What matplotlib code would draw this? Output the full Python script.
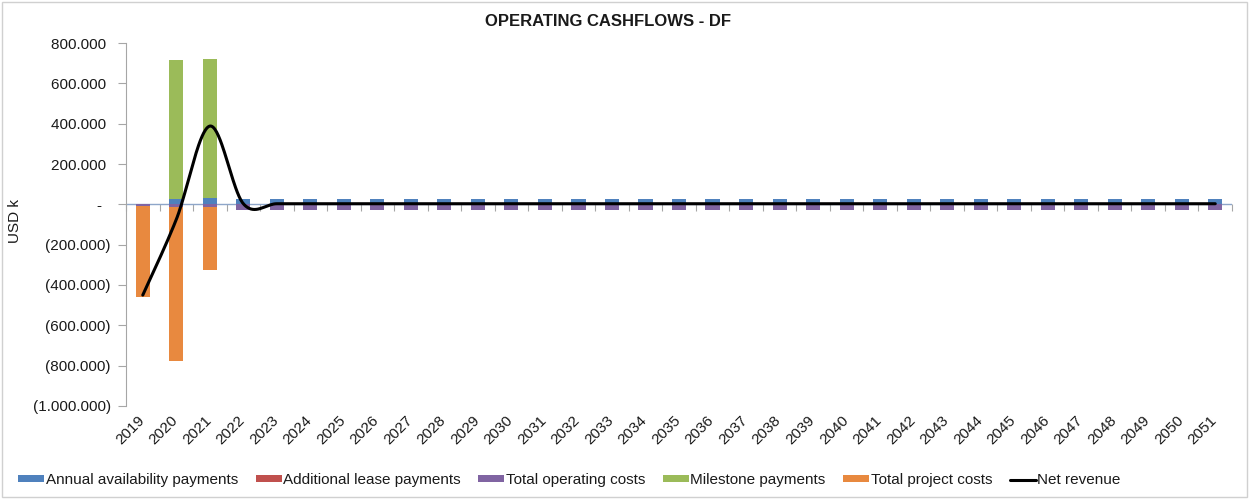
import numpy as np
import matplotlib
matplotlib.use("Agg")
import matplotlib.pyplot as plt
import matplotlib.transforms as mtransforms
from matplotlib.ticker import FuncFormatter, FixedLocator
from matplotlib.patches import Rectangle

plt.rcParams['font.family'] = ['Liberation Sans', 'DejaVu Sans']

years = list(range(2019, 2052))
n = len(years)

# Cash flow components (USD k)
availability = [0, 25000, 30000] + [28000] * (n - 3)
lease = [0] * n
operating = [-8000, -12000, -15000] + [-26000] * (n - 3)
milestone = [0, 690000, 690000] + [0] * (n - 3)
project = [-452000, -765000, -310000] + [0] * (n - 3)
net_revenue = [-450000, -75000, 388000] + [3000] * (n - 3)

series = [
    ("Annual availability payments", availability, "#4F81BD"),
    ("Additional lease payments", lease, "#C0504D"),
    ("Total operating costs", operating, "#8064A2"),
    ("Milestone payments", milestone, "#9BBB59"),
    ("Total project costs", project, "#E8893F"),
]

fig = plt.figure(figsize=(12.49, 4.99), dpi=100)
ax = fig.add_axes([0.1009, 0.1864, 0.8855, 0.7274])

x = np.arange(n)
pos_base = np.zeros(n)
neg_base = np.zeros(n)
handles = []
for label, vals, color in series:
    v = np.array(vals, dtype=float)
    bottom = np.where(v >= 0, pos_base, neg_base)
    h = ax.bar(x, v, width=0.42, bottom=bottom, color=color, label=label,
               zorder=2, linewidth=0)
    handles.append(h)
    pos_base = pos_base + np.where(v > 0, v, 0)
    neg_base = neg_base + np.where(v < 0, v, 0)


def smooth_curve(xs, ys, steps=40):
    """Cubic Bezier smoothing through every point (Catmull-Rom style)."""
    xs = np.asarray(xs, float)
    ys = np.asarray(ys, float)
    px = np.concatenate([[xs[0]], xs, [xs[-1]]])
    py = np.concatenate([[ys[0]], ys, [ys[-1]]])
    out_x, out_y = [], []
    t = np.linspace(0, 1, steps)
    for i in range(1, len(px) - 2):
        x0, y0 = px[i], py[i]
        x3, y3 = px[i + 1], py[i + 1]
        x1 = x0 + (px[i + 1] - px[i - 1]) / 6
        y1 = y0 + (py[i + 1] - py[i - 1]) / 6
        x2 = x3 - (px[i + 2] - px[i]) / 6
        y2 = y3 - (py[i + 2] - py[i]) / 6
        bx = (1 - t) ** 3 * x0 + 3 * (1 - t) ** 2 * t * x1 + 3 * (1 - t) * t ** 2 * x2 + t ** 3 * x3
        by = (1 - t) ** 3 * y0 + 3 * (1 - t) ** 2 * t * y1 + 3 * (1 - t) * t ** 2 * y2 + t ** 3 * y3
        out_x.extend(bx)
        out_y.extend(by)
    return np.array(out_x), np.array(out_y)


sx, sy = smooth_curve(x, net_revenue)
line, = ax.plot(sx, sy, color="black", lw=2.2, zorder=4, label="Net revenue",
                solid_capstyle="round")
handles.append(line)

ax.set_xlim(-0.5, n - 0.5)
ax.set_ylim(-1000000, 800000)
ax.set_yticks(np.arange(-1000000, 800001, 200000))


def fmt(v, pos):
    # accounting style: positives padded so digits line up with "(...)"
    if abs(v) < 1:
        return "-  "
    s = f"{abs(int(round(v))):,}".replace(",", ".")
    return f"({s})" if v < 0 else s + " "


ax.yaxis.set_major_formatter(FuncFormatter(fmt))
ax.tick_params(axis="y", labelsize=11, length=6, color="#A6A6A6", width=0.8,
               pad=5, labelcolor="#1a1a1a")

ax.set_xticks(x)
ax.set_xticklabels([str(y) for y in years], rotation=45, ha="right",
                   rotation_mode="anchor", fontsize=11, color="#1a1a1a")
ax.tick_params(axis="x", length=0, pad=5)
shift = mtransforms.ScaledTranslation(-4 / 72, 0, fig.dpi_scale_trans)
for lbl in ax.get_xticklabels():
    lbl.set_transform(lbl.get_transform() + shift)

for side in ("top", "right", "bottom"):
    ax.spines[side].set_visible(False)
ax.spines["left"].set_color("#A6A6A6")
ax.spines["left"].set_linewidth(0.8)

# Category axis crossing at zero, ticks between categories
zero_frac = 1000000 / 1800000
sec = ax.secondary_xaxis(zero_frac)
sec.xaxis.set_major_locator(FixedLocator(np.arange(-0.5, n, 1.0)))
sec.tick_params(axis="x", direction="out", length=5, color="#A6A6A6",
                width=0.8, labelbottom=False, labeltop=False, top=False, bottom=True)
sec.spines["bottom"].set_visible(False)
sec.spines["top"].set_visible(False)
ax.axhline(0, color="#8EA6C9", lw=1.0, zorder=1)

ax.set_ylabel("USD k", fontsize=11, color="#1a1a1a")
ax.yaxis.set_label_coords(-0.094, 0.51)

fig.suptitle("OPERATING CASHFLOWS - DF", fontsize=12, fontweight="bold",
             x=0.487, y=0.972, color="#1a1a1a")

fig.legend(handles=handles, labels=[h.get_label() for h in handles],
           loc="lower center", bbox_to_anchor=(0.456, -0.004), ncol=6,
           frameon=False, fontsize=11, handlelength=1.7, handleheight=0.35,
           handletextpad=0.1, columnspacing=1.15, labelcolor="#1a1a1a")

fig.patches.append(Rectangle((0.002, 0.004), 0.996, 0.992, transform=fig.transFigure,
                             fill=False, edgecolor="#D0D0D0", lw=1.0))

fig.savefig("out.png", dpi=100)
